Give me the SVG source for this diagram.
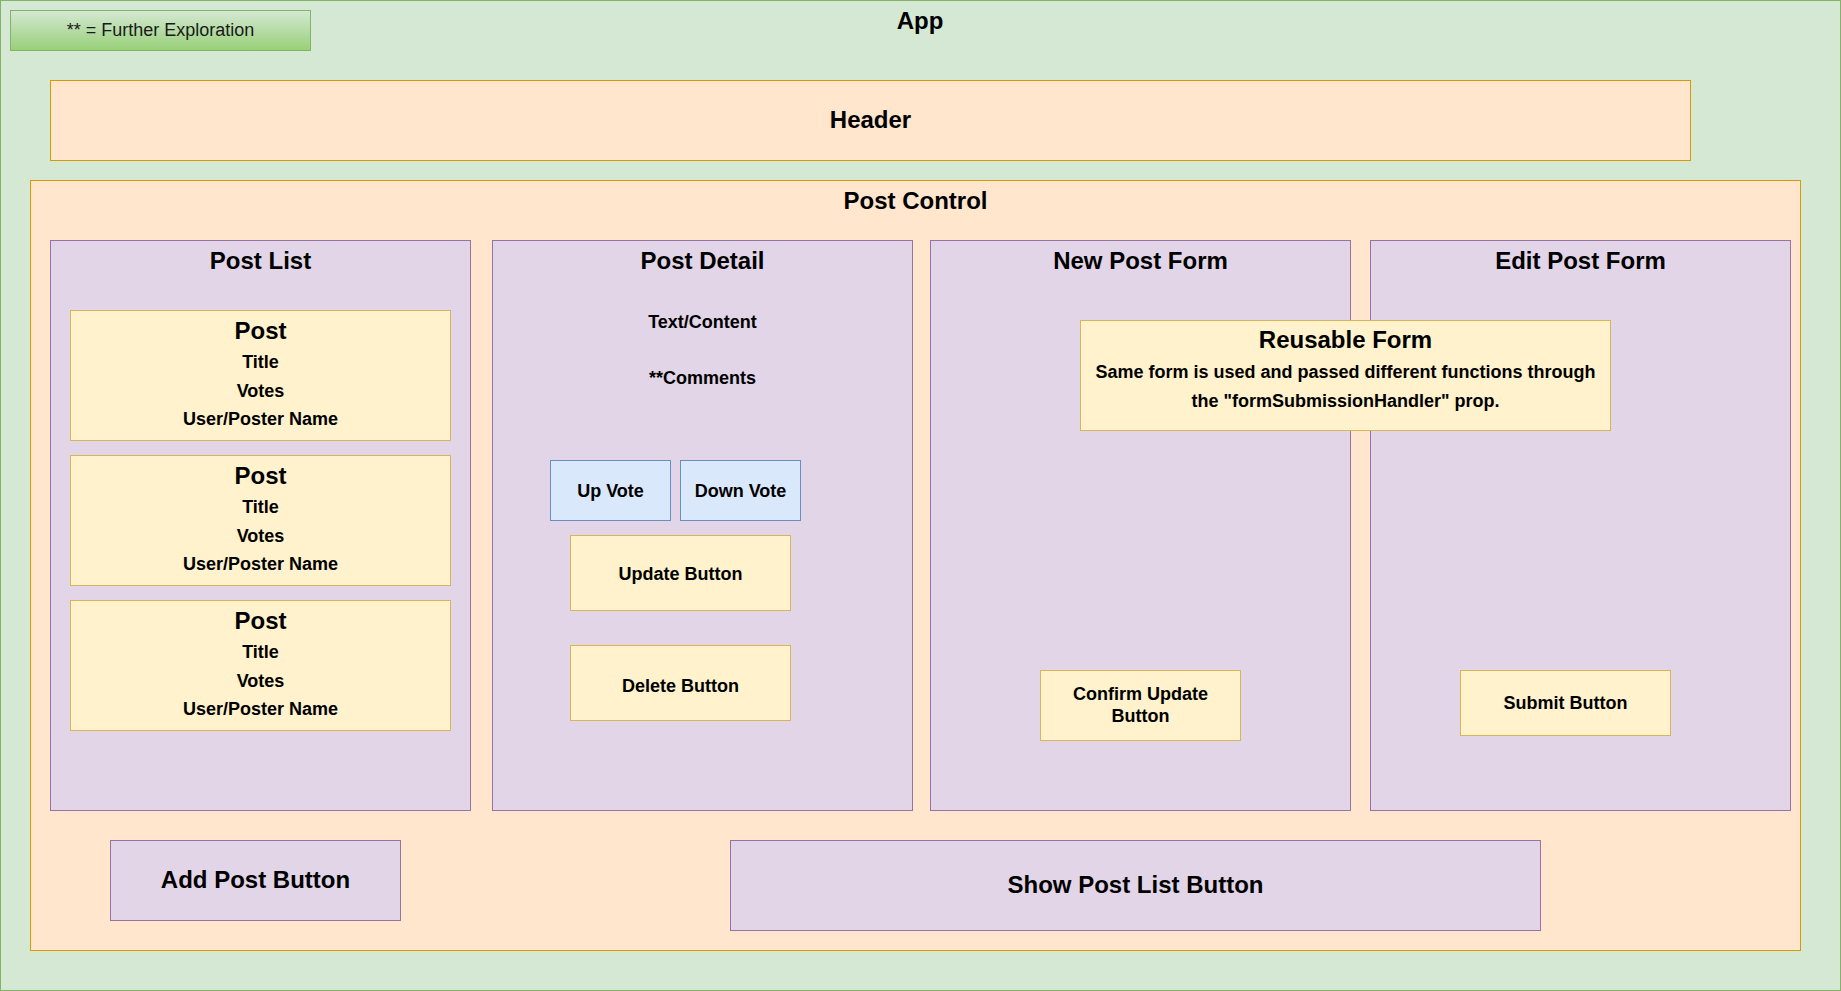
<svg xmlns="http://www.w3.org/2000/svg" width="1841" height="991" viewBox="0 0 1841 991">
<defs>
<linearGradient id="lg" x1="0" y1="0" x2="0" y2="1">
<stop offset="0" stop-color="#d5e8d4"/>
<stop offset="1" stop-color="#97d077"/>
</linearGradient>
</defs>
<style>
text{font-family:"Liberation Sans",Arial,sans-serif;fill:#000;text-anchor:middle}
.big{font-size:24px;font-weight:bold}
.sm{font-size:18px;font-weight:bold}
.green{fill:#d5e8d4;stroke:#82b366;stroke-width:1}
.orange{fill:#ffe6cc;stroke:#d79b00;stroke-width:1}
.purple{fill:#e1d5e7;stroke:#9673a6;stroke-width:1}
.yellow{fill:#fff2cc;stroke:#d6b656;stroke-width:1}
.blue{fill:#dae8fc;stroke:#6c8ebf;stroke-width:1}
</style>
<g id="app">
<rect class="green" x="0.5" y="0.5" width="1840" height="990"/>
<text class="big" x="920" y="29.3">App</text>
</g>
<g id="legend">
<rect x="10.5" y="10.5" width="300" height="40" fill="url(#lg)" stroke="#82b366"/>
<text x="160.5" y="36" style="font-size:18px;fill:#1a1a1a">** = Further Exploration</text>
</g>
<g id="header">
<rect class="orange" x="50.5" y="80.5" width="1640" height="80"/>
<text class="big" x="870.5" y="128.3">Header</text>
</g>
<g id="post-control">
<rect class="orange" x="30.5" y="180.5" width="1770" height="770"/>
<text class="big" x="915.5" y="209">Post Control</text>
</g>
<g id="post-list">
<rect class="purple" x="50.5" y="240.5" width="420" height="570"/>
<text class="big" x="260.5" y="268.5">Post List</text>
</g>
<g id="post-1">
<rect class="yellow" x="70.5" y="310.5" width="380" height="130"/>
<text class="big" x="260.5" y="339.3">Post</text>
<text class="sm" x="260.5" y="368.3">Title</text>
<text class="sm" x="260.5" y="397.3">Votes</text>
<text class="sm" x="260.5" y="425">User/Poster Name</text>
</g>
<g id="post-2">
<rect class="yellow" x="70.5" y="455.5" width="380" height="130"/>
<text class="big" x="260.5" y="484.3">Post</text>
<text class="sm" x="260.5" y="513.3">Title</text>
<text class="sm" x="260.5" y="542.3">Votes</text>
<text class="sm" x="260.5" y="570">User/Poster Name</text>
</g>
<g id="post-3">
<rect class="yellow" x="70.5" y="600.5" width="380" height="130"/>
<text class="big" x="260.5" y="629.3">Post</text>
<text class="sm" x="260.5" y="658.3">Title</text>
<text class="sm" x="260.5" y="687.3">Votes</text>
<text class="sm" x="260.5" y="715">User/Poster Name</text>
</g>
<g id="post-detail">
<rect class="purple" x="492.5" y="240.5" width="420" height="570"/>
<text class="big" x="702.5" y="268.5">Post Detail</text>
<text class="sm" x="702.5" y="327.7">Text/Content</text>
<text class="sm" x="702.5" y="384.3">**Comments</text>
</g>
<g id="up-vote">
<rect class="blue" x="550.5" y="460.5" width="120" height="60"/>
<text class="sm" x="610.5" y="496.7">Up Vote</text>
</g>
<g id="down-vote">
<rect class="blue" x="680.5" y="460.5" width="120" height="60"/>
<text class="sm" x="740.5" y="496.7">Down Vote</text>
</g>
<g id="update-button">
<rect class="yellow" x="570.5" y="535.5" width="220" height="75"/>
<text class="sm" x="680.5" y="580">Update Button</text>
</g>
<g id="delete-button">
<rect class="yellow" x="570.5" y="645.5" width="220" height="75"/>
<text class="sm" x="680.5" y="691.7">Delete Button</text>
</g>
<g id="new-post-form">
<rect class="purple" x="930.5" y="240.5" width="420" height="570"/>
<text class="big" x="1140.5" y="268.5">New Post Form</text>
</g>
<g id="edit-post-form">
<rect class="purple" x="1370.5" y="240.5" width="420" height="570"/>
<text class="big" x="1580.5" y="268.5">Edit Post Form</text>
</g>
<g id="reusable-form">
<rect class="yellow" x="1080.5" y="320.5" width="530" height="110"/>
<text class="big" x="1345.5" y="348.3">Reusable Form</text>
<text class="sm" x="1345.5" y="378.3">Same form is used and passed different functions through</text>
<text class="sm" x="1345.5" y="406.7">the "formSubmissionHandler" prop.</text>
</g>
<g id="confirm-update-button">
<rect class="yellow" x="1040.5" y="670.5" width="200" height="70"/>
<text class="sm" x="1140.5" y="700">Confirm Update</text>
<text class="sm" x="1140.5" y="722.3">Button</text>
</g>
<g id="submit-button">
<rect class="yellow" x="1460.5" y="670.5" width="210" height="65"/>
<text class="sm" x="1565.5" y="709">Submit Button</text>
</g>
<g id="add-post-button">
<rect class="purple" x="110.5" y="840.5" width="290" height="80"/>
<text class="big" x="255.5" y="887.7">Add Post Button</text>
</g>
<g id="show-post-list-button">
<rect class="purple" x="730.5" y="840.5" width="810" height="90"/>
<text class="big" x="1135.5" y="892.7">Show Post List Button</text>
</g>
<g id="connectors"></g>
</svg>
